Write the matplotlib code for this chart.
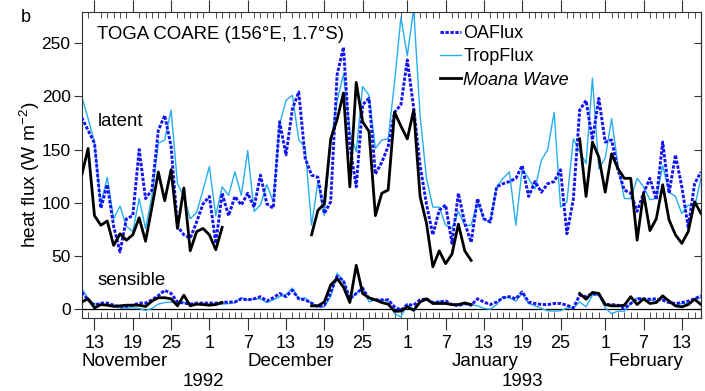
import numpy as np
import pandas as pd
import matplotlib
matplotlib.use("Agg")
import matplotlib.pyplot as plt
import matplotlib.dates as mdates
import matplotlib.transforms as mtransforms

plt.rcParams['font.family'] = ['Liberation Sans', 'DejaVu Sans']
plt.rcParams['mathtext.fontset'] = 'custom'
plt.rcParams['mathtext.rm'] = 'Liberation Sans'
plt.rcParams['mathtext.it'] = 'Liberation Sans:italic'

nan = np.nan
start_date = '1992-11-11'

oaflux_latent = [180, 168, 156, 95, 117, 78, 54, 85, 88, 150,
                 104, 112, 168, 182, 153, 78, 70, 67, 82, 99,
                 106, 62, 109, 88, 106, 98, 109, 96, 126, 99,
                 95, 176, 145, 188, 204, 142, 126, 124, 90, 101,
                 220, 246, 154, 115, 192, 198, 127, 138, 153, 185,
                 192, 234, 189, 135, 99, 70, 93, 98, 62, 109,
                 81, 63, 104, 85, 82, 115, 118, 120, 123, 135,
                 106, 120, 110, 118, 120, 131, 71, 103, 187, 196,
                 159, 198, 157, 159, 131, 112, 109, 92, 109, 123,
                 103, 157, 109, 145, 115, 77, 118, 129]
tropflux_latent = [200, 179, 157, 99, 124, 85, 97, 78, 73, 104,
                   76, 106, 156, 159, 187, 118, 106, 85, 91, 112,
                   134, 88, 115, 107, 129, 107, 149, 92, 98, 117,
                   101, 174, 196, 201, 159, 152, 79, 120, 88, 157,
                   195, 221, 167, 148, 209, 201, 151, 159, 160, 213,
                   274, 238, 282, 182, 123, 96, 96, 79, 76, 92,
                   79, 79, 101, 85, 82, 115, 123, 129, 79, 132,
                   123, 113, 140, 150, 185, 96, 101, 160, 148, 137,
                   217, 132, 142, 179, 135, 104, 104, 123, 115, 103,
                   104, 135, 110, 106, 90, 98, 96, 123]
moana_latent = [126, 151, 88, 79, 83, 60, 71, 65, 70, 86,
                64, 96, 129, 102, 131, 76, 114, 55, 73, 76,
                70, 56, 77, nan, nan, nan, nan, nan, nan, nan,
                nan, nan, nan, nan, nan, nan, 70, 93, 99, 160,
                178, 203, 115, 213, 176, 167, 88, 109, 112, 185,
                172, 160, 187, 106, 81, 40, 55, 43, 52, 80,
                55, 46, nan, nan, nan, nan, nan, nan, nan, nan,
                nan, nan, nan, nan, nan, nan, nan, nan, 160, 106,
                157, 143, 110, 146, 132, 123, 123, 65, 109, 74,
                85, 117, 84, 70, 62, 73, 101, 90]

oaflux_sensible = [16, 9, 4, 6, 6, 4, 2.5, 3, 4, 6,
                   6, 9, 13, 18, 15, 7, 6, 5, 6, 6,
                   6, 6, 6.5, 7, 7, 10, 9, 10, 12, 8,
                   11, 15, 12, 18, 10, 9, 6, 2.5, 4, 16,
                   31, 27, 10, 15, 20, 10, 9, 9, 9, 2.5,
                   -0.7, 4.6, 4, 9, 10, 6.5, 7, 8, 4.6, 3.4,
                   5.6, 4, 10, 7, 4.6, 7, 11, 12, 10, 16.5,
                   7, 5.6, 4.6, 4.6, 5.6, 5.6, 4, 1.5, 13.4, 12,
                   15, 14, 4.6, 4.6, 4, 1, 5.6, 10, 10, 9.6,
                   10, 8.7, 6.5, 5.6, 6.5, 7.8, 10, 12.8]
tropflux_sensible = [20, 10, 5, 5, 4, 2.5, 1.5, 1, 1.5, 1,
                     -1, 1, 5, 6.5, 7, 5.5, 6.5, 5.5, 5, 5,
                     5, 5, 5, 5.5, 6.5, 11, 9, 10, 10, 6.5,
                     9, 12, 14, 20, 10, 11, 5.5, 2.5, 2.5, 12,
                     34, 27, 10, 15, 21, 7, 9, 9, 8, -4,
                     -7, 4.6, -2, 7, 8.7, 6.5, 7.8, 6.5, 4.6, 4,
                     4.6, 4.6, 3.4, 1, 0.3, 4.6, 12, 11, 7.8, 15,
                     5.6, 3.4, 1, -1.3, -1.6, -1.3, 1.5, 1.5, 7, 2.5,
                     13.4, 13.4, 1.5, -4, -1.6, -1.6, 5.6, 11, 10, 8.7,
                     7.8, 10, 8.7, 4, 5.6, 5.6, 9.6, 11]
moana_sensible = [7, 10, 1.5, 4.5, 4, 3, 3.4, 4, 4, 4,
                  2.8, 7.8, 11, 11, 10, 3.4, 13.4, 3.4, 5, 4.6,
                  4, 4.6, 6.5, nan, nan, nan, nan, nan, nan, nan,
                  nan, nan, nan, nan, nan, nan, 3.4, 3.4, 7, 23,
                  29, 21, 6.5, 41.5, 15, 11, 9, 6.5, 5, -1.6,
                  -1.6, 2.5, -0.7, 7, 10, 5.6, 5.6, 5.6, 4.6, 4.6,
                  6.2, 4.6, nan, nan, nan, nan, nan, nan, nan, nan,
                  nan, nan, nan, nan, nan, nan, nan, nan, 15, 9.6,
                  16, 15, 4.6, 3.4, 3.4, 4, 12, 4.6, 10, 5.6,
                  6.5, 12.8, 7.8, 3.4, 2.5, 4.6, 9.6, 4.6]

series_names = ['OAFlux', 'TropFlux', 'Moana Wave']
major_days = [1, 7, 13, 19, 25]
month_labels = ['November', 'December', 'January', 'February']
month_label_dates = ['1992-11-17 18:00', '1992-12-13 16:00', '1993-01-13 05:00', '1993-02-07 09:00']
year_labels = ['1992', '1993']
year_label_dates = ['1992-11-30', '1993-01-19 02:00']

dates = pd.date_range(start_date, periods=len(oaflux_latent), freq='D')

fig = plt.figure(figsize=(7.05, 3.91), dpi=100)
ax = fig.add_axes([0.1159, 0.1867, 0.8784, 0.7826])

c_oa = '#1414f0'
c_tf = '#25aef0'
c_mw = '#000000'
dash = (1.15, 0.55)

ax.axhline(0, color='k', lw=0.9, zorder=1)
ax.plot(dates, tropflux_latent, color=c_tf, lw=1.0, zorder=2)
ax.plot(dates, tropflux_sensible, color=c_tf, lw=1.0, zorder=2)
l_oa, = ax.plot(dates, oaflux_latent, color=c_oa, lw=2.1, dashes=dash, zorder=3)
ax.plot(dates, oaflux_sensible, color=c_oa, lw=2.1, dashes=dash, zorder=3)
l_mw, = ax.plot(dates, moana_latent, color=c_mw, lw=2.0, zorder=4)
ax.plot(dates, moana_sensible, color=c_mw, lw=2.0, zorder=4)
l_tf, = ax.plot([], [], color=c_tf, lw=1.0)

ax.set_xlim(dates[0], dates[-1])
ax.set_ylim(-8, 279)
ax.set_yticks([0, 50, 100, 150, 200, 250])

ax.xaxis.set_major_locator(mdates.DayLocator(bymonthday=major_days))
ax.xaxis.set_minor_locator(mdates.DayLocator())
ax.xaxis.set_major_formatter(plt.FuncFormatter(lambda x, p: str(mdates.num2date(x).day)))

spine_c = '#333333'
for s in ax.spines.values():
    s.set_color(spine_c)
    s.set_linewidth(0.8)
ax.tick_params(axis='x', which='major', direction='out', length=8.6, width=0.8,
               top=True, bottom=True, labelsize=13, pad=3.5, color=spine_c)
ax.tick_params(axis='x', which='minor', direction='in', length=4, width=0.6,
               top=True, bottom=True, color=spine_c)
ax.tick_params(axis='y', which='major', direction='out', length=6, width=0.8,
               left=True, right=False, labelsize=12.5, pad=2, color=spine_c)
sec = ax.secondary_yaxis('right')
sec.set_yticks([0, 50, 100, 150, 200, 250])
sec.tick_params(direction='in', length=5, width=0.8, labelright=False, color=spine_c)
sec.spines['right'].set_color(spine_c)

trans = mtransforms.blended_transform_factory(ax.transData, fig.transFigure)
for lab, d in zip(month_labels, month_label_dates):
    ax.text(pd.Timestamp(d), 1 - 362 / 391, lab, transform=trans, ha='center', va='center',
            fontsize=13.5, clip_on=False)
for lab, d in zip(year_labels, year_label_dates):
    ax.text(pd.Timestamp(d), 1 - 382 / 391, lab, transform=trans, ha='center', va='center',
            fontsize=13.5, clip_on=False)

ax.text(0.0247, 0.925, 'TOGA COARE (156°E, 1.7°S)', transform=ax.transAxes,
        ha='left', va='center', fontsize=13.4)
ax.text(0.0263, 0.641, 'latent', transform=ax.transAxes, ha='left', va='center', fontsize=13.4)
ax.text(0.0263, 0.124, 'sensible', transform=ax.transAxes, ha='left', va='center', fontsize=13.4)
fig.text(21 / 705, 1 - 18 / 391, 'b', ha='left', va='center', fontsize=13)
fig.text(29.5 / 705, 1 - 175 / 391, 'heat flux (W m$^{-2}$)', rotation=90,
         ha='center', va='center', fontsize=13.8)

leg = ax.legend([l_oa, l_tf, l_mw], series_names, loc='upper left',
                bbox_to_anchor=(0.5786, 0.9575), frameon=False, fontsize=13,
                handlelength=1.15, handletextpad=0.15, labelspacing=0.35, borderpad=0,
                borderaxespad=0)
leg.get_texts()[2].set_fontstyle('italic')

fig.savefig('out.png', dpi=100)
